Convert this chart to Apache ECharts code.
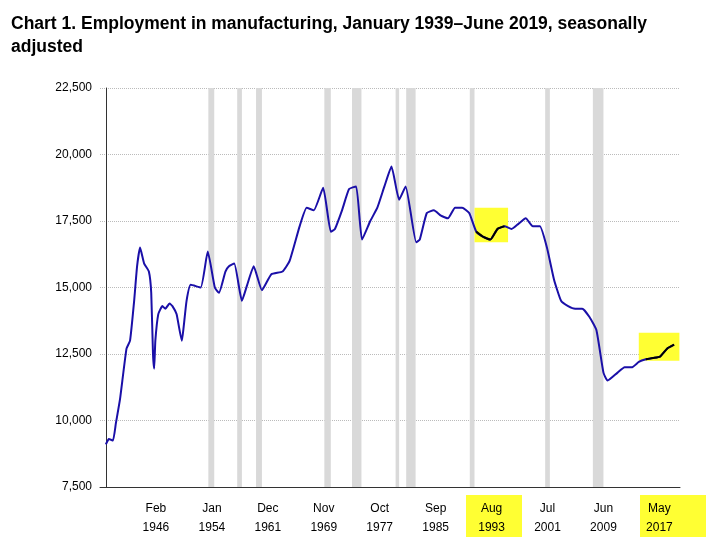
<!DOCTYPE html>
<html lang="en">
<head>
<meta charset="UTF-8">
<title>Employment in manufacturing</title>
<script src="https://cdn.jsdelivr.net/npm/echarts@6/dist/echarts.min.js"></script>
<style>body{margin:0;background:#fff}</style>
</head>
<body>
<div id="main" style="width:713px;height:546px"></div>
<script>
// dates as "YYYY-MM", employment in thousands
var dates = ['1939-01','1939-06','1940-01','1940-06','1941-01','1941-12','1942-06','1943-01','1943-06','1943-11',
  '1944-06','1945-02','1945-06','1945-09','1945-11','1946-01','1946-06','1947-01','1947-06','1948-01','1948-06',
  '1949-01','1949-10','1950-01','1950-06','1951-01','1952-06','1953-06','1954-06','1955-01','1955-12','1956-06',
  '1957-03','1958-04','1959-01','1959-12','1961-02','1962-06','1964-01','1965-01','1966-06','1967-06','1968-06',
  '1969-10','1970-11','1971-06','1972-06','1973-06','1974-06','1975-04','1976-06','1977-06','1978-06','1979-06',
  '1980-07','1981-06','1982-12','1983-06','1984-06','1985-06','1986-06','1987-06','1988-06','1989-06','1990-06',
  '1991-06','1992-06','1993-06','1994-06','1995-06','1996-06','1997-06','1998-06','1999-06','2000-06','2001-06',
  '2002-06','2003-06','2004-06','2005-06','2006-06','2007-06','2008-06','2009-06','2010-01','2011-06','2012-06',
  '2013-06','2014-06','2015-06','2016-06','2017-06','2018-06','2019-06'];
var values = [9100,9300,9250,9900,10800,12700,13000,14500,15800,16500,
  15900,15600,14800,12500,11950,13000,14000,14300,14200,14400,14300,
  14000,13000,13500,14500,15100,15000,16350,15000,14800,15600,15800,
  15900,14500,15100,15800,14900,15500,15600,16000,17300,18000,17900,
  18750,17100,17200,17900,18700,18800,16800,17500,18000,18800,19550,
  18300,18800,16700,16800,17800,17900,17700,17600,18000,18000,17800,
  17100,16900,16800,17200,17300,17200,17400,17600,17300,17300,16500,
  15300,14500,14300,14200,14200,13900,13400,11800,11500,11800,12000,
  12000,12200,12300,12350,12400,12700,12850];
var recessions = [['1953-07','1954-05'],['1957-08','1958-04'],['1960-04','1961-02'],['1969-12','1970-11'],
  ['1973-11','1975-03'],['1980-01','1980-07'],['1981-07','1982-11'],['1990-07','1991-03'],
  ['2001-03','2001-11'],['2007-12','2009-06']];
var highlights = [['1991-06','1995-06'],['2015-06','2019-06']];
var yTicks = [7500, 22500, 2500];
var monthNames = ['Jan','Feb','Mar','Apr','May','Jun','Jul','Aug','Sep','Oct','Nov','Dec'];

function idx(d) { var p = d.split('-'); return (+p[0] - 1939) * 12 + (+p[1] - 1); }

var points = dates.map(function (d, i) { return [idx(d), values[i]]; });
function inRange(r) { return points.filter(function (p) { return p[0] >= idx(r[0]) && p[0] <= idx(r[1]); }); }

var chart = echarts.init(document.getElementById('main'));
chart.setOption({
  animation: false,
  title: {
    text: 'Chart 1. Employment in manufacturing, January 1939\u2013June 2019, seasonally\nadjusted',
    left: 6, top: 8,
    textStyle: { fontFamily: 'Arial, Liberation Sans', fontSize: 17.5, fontWeight: 'bold', color: '#000', lineHeight: 23 }
  },
  graphic: [
    { type: 'rect', left: 466, top: 495, shape: { width: 56, height: 42 }, style: { fill: '#ffff33' }, z: -1 },
    { type: 'rect', left: 640, top: 495, shape: { width: 66, height: 42 }, style: { fill: '#ffff33' }, z: -1 }
  ],
  grid: { left: 100, right: 33, top: 88, bottom: 59 },
  xAxis: {
    type: 'value', min: -10, max: 975, interval: 95,
    axisLine: { lineStyle: { color: '#333' } },
    axisTick: { show: false },
    splitLine: { show: false },
    axisLabel: {
      color: '#000', fontSize: 12, fontFamily: 'Arial, Liberation Sans', lineHeight: 19, margin: 12,
      showMinLabel: false, showMaxLabel: false,
      formatter: function (v) {
        if (v < 0) return '';
        var y = 1939 + Math.floor(v / 12), m = monthNames[v % 12];
        if (y === 1986) return m + ' ' + y;
        return m + '\n' + y;
      }
    }
  },
  yAxis: {
    type: 'value', min: yTicks[0], max: yTicks[1], interval: yTicks[2],
    axisLine: { show: true, lineStyle: { color: '#333' } },
    axisTick: { show: false },
    splitLine: { lineStyle: { color: '#bbb', type: 'dotted' } },
    axisLabel: {
      color: '#000', fontSize: 12, fontFamily: 'Arial, Liberation Sans',
      formatter: function (v) { return v.toLocaleString('en-US'); }
    }
  },
  series: [
    {
      type: 'line', data: points, showSymbol: false, smooth: 0.15,
      lineStyle: { color: '#1a0fa8', width: 2 },
      markArea: {
        silent: true, itemStyle: { color: '#d9d9d9' },
        data: recessions.map(function (r) { return [{ xAxis: idx(r[0]) }, { xAxis: idx(r[1]) }]; })
      }
    },
    {
      type: 'line', data: [], silent: true,
      markArea: {
        silent: true, itemStyle: { color: '#ffff33' },
        data: [[{ xAxis: idx('1991-03'), yAxis: 16700 }, { xAxis: idx('1995-12'), yAxis: 18000 }],
               [{ xAxis: idx('2014-06'), yAxis: 12250 }, { xAxis: idx('2020-03'), yAxis: 13300 }]]
      }
    }
  ].concat(highlights.map(function (r) {
    return { type: 'line', data: inRange(r), showSymbol: false, smooth: 0.15, z: 3,
      lineStyle: { color: '#000', width: 2 } };
  }))
});
</script>
</body>
</html>
